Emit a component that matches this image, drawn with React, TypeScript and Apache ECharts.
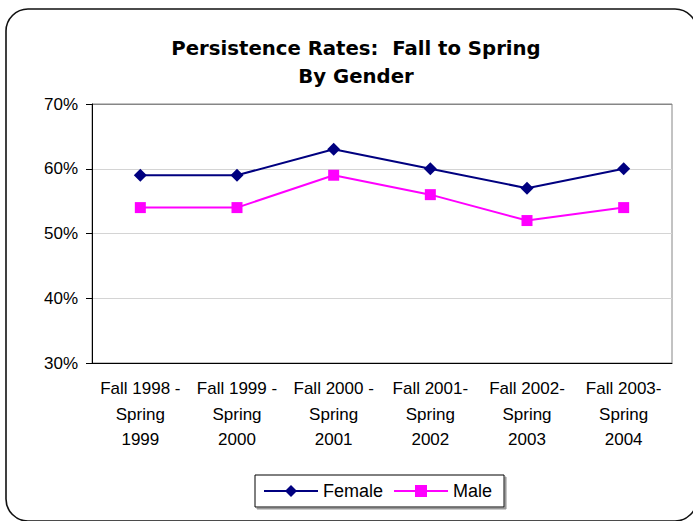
import React, { useEffect, useRef } from "react";
import * as echarts from "echarts";

const categories = [
  "Fall 1998 -\nSpring\n1999",
  "Fall 1999 -\nSpring\n2000",
  "Fall 2000 -\nSpring\n2001",
  "Fall 2001-\nSpring\n2002",
  "Fall 2002-\nSpring\n2003",
  "Fall 2003-\nSpring\n2004",
];
const femaleRates = [59, 59, 63, 60, 57, 60];
const maleRates = [54, 54, 59, 56, 52, 54];
const yTicks = { min: 30, max: 70, interval: 10 };

const FONT = "'Liberation Sans', Arial, sans-serif";

export default function App() {
  const ref = useRef<HTMLDivElement>(null);
  useEffect(() => {
    if (!ref.current) return;
    const chart = echarts.init(ref.current, null, { renderer: "svg" });
    chart.setOption({
      animation: false,
      backgroundColor: "#ffffff",
      title: {
        text: "Persistence Rates:  Fall to Spring\nBy Gender",
        left: 356,
        top: 29,
        textAlign: "center",
        padding: [5, 0, 5, 0],
        textStyle: {
          fontFamily: "'DejaVu Sans', sans-serif",
          fontWeight: "bold",
          fontSize: 19.7,
          lineHeight: 28,
          color: "#000",
        },
      },
      graphic: [
        {
          type: "rect",
          shape: { x: 6, y: 9, width: 691, height: 512, r: 22 },
          style: { fill: "none", stroke: "#111", lineWidth: 1.6 },
          silent: true,
          z: -1,
        },
      ],
      grid: {
        left: 92,
        top: 104,
        right: 21,
        bottom: 158,
        show: true,
        borderColor: "#868686",
        borderWidth: 1,
        containLabel: false,
      },
      legend: {
        left: 255,
        top: 475,
        padding: [7, 12, 7, 8],
        itemWidth: 54,
        itemHeight: 15,
        itemGap: 10,
        borderColor: "#000",
        borderWidth: 1,
        backgroundColor: "#fff",
        shadowColor: "#999",
        shadowOffsetX: 2,
        shadowOffsetY: 2,
        shadowBlur: 0,
        textStyle: { fontFamily: FONT, fontSize: 18, color: "#000" },
        data: ["Female", "Male"],
      },
      xAxis: {
        type: "category",
        data: categories,
        boundaryGap: true,
        axisLine: { lineStyle: { color: "#000", width: 1 } },
        axisTick: { length: 6, lineStyle: { color: "#000" } },
        axisLabel: {
          interval: 0,
          margin: 13,
          fontFamily: FONT,
          fontSize: 17,
          lineHeight: 25.5,
          color: "#000",
        },
        splitLine: { show: false },
      },
      yAxis: {
        type: "value",
        min: yTicks.min,
        max: yTicks.max,
        interval: yTicks.interval,
        axisLine: { show: true, lineStyle: { color: "#000", width: 1 } },
        axisTick: { show: true, length: 6, lineStyle: { color: "#000" } },
        axisLabel: {
          formatter: "{value}%",
          margin: 14,
          fontFamily: FONT,
          fontSize: 17,
          color: "#000",
        },
        splitLine: {
          show: true,
          lineStyle: {
            color: ["#d4d4d4", "#d4d4d4", "#d4d4d4", "#d4d4d4", "#868686"],
            width: 1,
          },
        },
      },
      series: [
        {
          name: "Female",
          type: "line",
          data: femaleRates,
          symbol: "diamond",
          symbolSize: 13,
          lineStyle: { color: "#000080", width: 2 },
          itemStyle: { color: "#000080" },
        },
        {
          name: "Male",
          type: "line",
          data: maleRates,
          symbol: "rect",
          symbolSize: 11,
          lineStyle: { color: "#ff00ff", width: 2 },
          itemStyle: { color: "#ff00ff" },
        },
      ],
    });
    return () => chart.dispose();
  }, []);
  return (
    <div
      ref={ref}
      style={{ position: "absolute", left: 0, top: 0, width: 693, height: 521 }}
    />
  );
}
